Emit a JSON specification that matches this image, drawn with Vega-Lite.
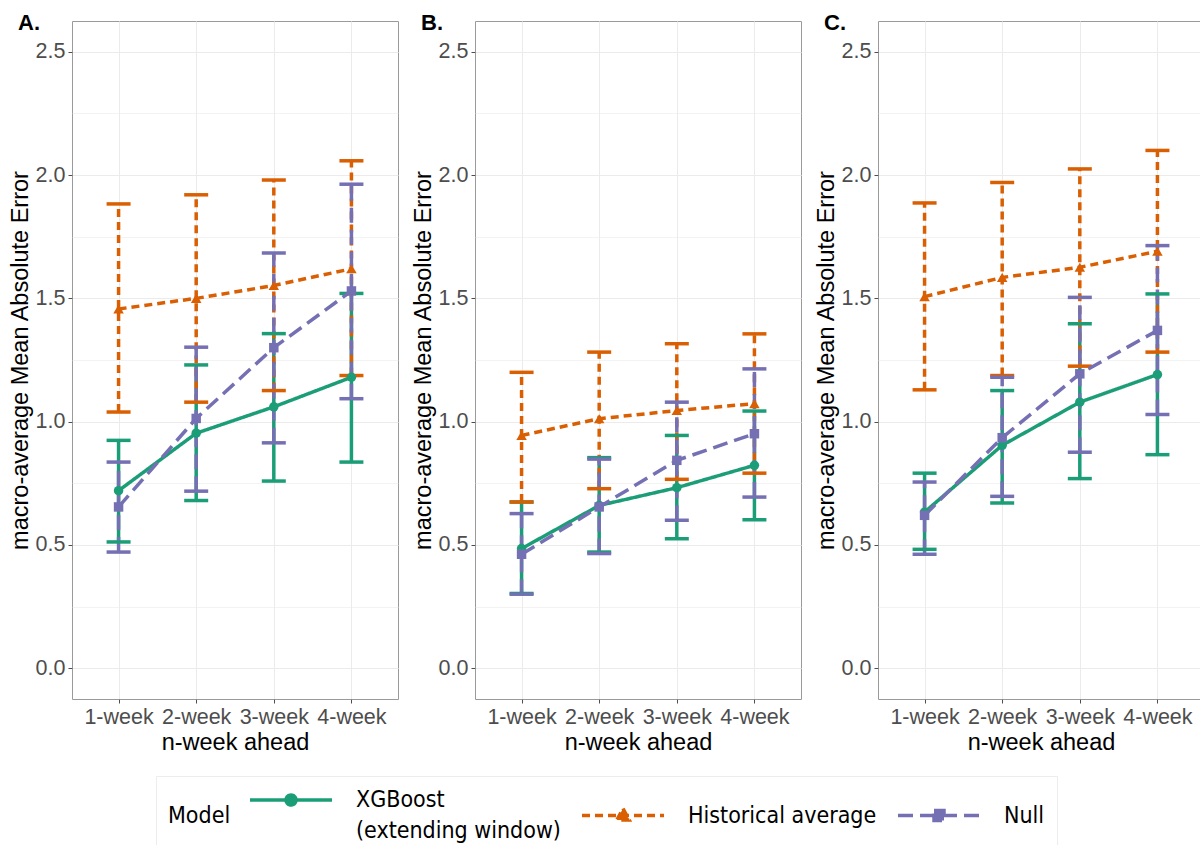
{
  "$schema": "https://vega.github.io/schema/vega-lite/v6.json",
  "padding": {"left": 7, "top": 11, "right": 0, "bottom": 0},
  "background": "white",
  "data": {"values": [
    {"panel": "A", "week": "1-week", "model": "XGBoost (extending window)", "mean": 0.72, "lo": 0.512, "hi": 0.924},
    {"panel": "A", "week": "2-week", "model": "XGBoost (extending window)", "mean": 0.953, "lo": 0.68, "hi": 1.23},
    {"panel": "A", "week": "3-week", "model": "XGBoost (extending window)", "mean": 1.06, "lo": 0.759, "hi": 1.357},
    {"panel": "A", "week": "4-week", "model": "XGBoost (extending window)", "mean": 1.18, "lo": 0.836, "hi": 1.52},
    {"panel": "A", "week": "1-week", "model": "Historical average", "mean": 1.457, "lo": 1.039, "hi": 1.883},
    {"panel": "A", "week": "2-week", "model": "Historical average", "mean": 1.5, "lo": 1.079, "hi": 1.92},
    {"panel": "A", "week": "3-week", "model": "Historical average", "mean": 1.552, "lo": 1.126, "hi": 1.98},
    {"panel": "A", "week": "4-week", "model": "Historical average", "mean": 1.62, "lo": 1.187, "hi": 2.058},
    {"panel": "A", "week": "1-week", "model": "Null", "mean": 0.654, "lo": 0.471, "hi": 0.836},
    {"panel": "A", "week": "2-week", "model": "Null", "mean": 1.013, "lo": 0.718, "hi": 1.302},
    {"panel": "A", "week": "3-week", "model": "Null", "mean": 1.3, "lo": 0.914, "hi": 1.684},
    {"panel": "A", "week": "4-week", "model": "Null", "mean": 1.53, "lo": 1.093, "hi": 1.963},
    {"panel": "B", "week": "1-week", "model": "XGBoost (extending window)", "mean": 0.485, "lo": 0.303, "hi": 0.674},
    {"panel": "B", "week": "2-week", "model": "XGBoost (extending window)", "mean": 0.66, "lo": 0.471, "hi": 0.854},
    {"panel": "B", "week": "3-week", "model": "XGBoost (extending window)", "mean": 0.732, "lo": 0.525, "hi": 0.944},
    {"panel": "B", "week": "4-week", "model": "XGBoost (extending window)", "mean": 0.823, "lo": 0.602, "hi": 1.043},
    {"panel": "B", "week": "1-week", "model": "Historical average", "mean": 0.944, "lo": 0.674, "hi": 1.2},
    {"panel": "B", "week": "2-week", "model": "Historical average", "mean": 1.012, "lo": 0.728, "hi": 1.282},
    {"panel": "B", "week": "3-week", "model": "Historical average", "mean": 1.045, "lo": 0.766, "hi": 1.316},
    {"panel": "B", "week": "4-week", "model": "Historical average", "mean": 1.073, "lo": 0.791, "hi": 1.356},
    {"panel": "B", "week": "1-week", "model": "Null", "mean": 0.462, "lo": 0.3, "hi": 0.627},
    {"panel": "B", "week": "2-week", "model": "Null", "mean": 0.654, "lo": 0.465, "hi": 0.848},
    {"panel": "B", "week": "3-week", "model": "Null", "mean": 0.843, "lo": 0.6, "hi": 1.079},
    {"panel": "B", "week": "4-week", "model": "Null", "mean": 0.951, "lo": 0.694, "hi": 1.214},
    {"panel": "C", "week": "1-week", "model": "XGBoost (extending window)", "mean": 0.633, "lo": 0.482, "hi": 0.791},
    {"panel": "C", "week": "2-week", "model": "XGBoost (extending window)", "mean": 0.904, "lo": 0.67, "hi": 1.126},
    {"panel": "C", "week": "3-week", "model": "XGBoost (extending window)", "mean": 1.079, "lo": 0.769, "hi": 1.397},
    {"panel": "C", "week": "4-week", "model": "XGBoost (extending window)", "mean": 1.191, "lo": 0.866, "hi": 1.518},
    {"panel": "C", "week": "1-week", "model": "Historical average", "mean": 1.507, "lo": 1.129, "hi": 1.887},
    {"panel": "C", "week": "2-week", "model": "Historical average", "mean": 1.585, "lo": 1.187, "hi": 1.97},
    {"panel": "C", "week": "3-week", "model": "Historical average", "mean": 1.626, "lo": 1.225, "hi": 2.025},
    {"panel": "C", "week": "4-week", "model": "Historical average", "mean": 1.691, "lo": 1.282, "hi": 2.1},
    {"panel": "C", "week": "1-week", "model": "Null", "mean": 0.62, "lo": 0.462, "hi": 0.755},
    {"panel": "C", "week": "2-week", "model": "Null", "mean": 0.935, "lo": 0.697, "hi": 1.18},
    {"panel": "C", "week": "3-week", "model": "Null", "mean": 1.194, "lo": 0.876, "hi": 1.504},
    {"panel": "C", "week": "4-week", "model": "Null", "mean": 1.37, "lo": 1.029, "hi": 1.714}
  ]},
  "spacing": 11,
  "resolve": {"scale": {"color": "shared", "strokeDash": "shared", "shape": "shared", "y": "independent", "x": "independent"}},
  "hconcat": [
    {
      "width": 326, "height": 678,
      "title": {"text": "A."},
      "transform": [{"filter": "datum.panel === 'A'"}],
      "encoding": {
        "x": {"field": "week", "type": "ordinal", "scale": {"type": "point", "padding": 0.6}, "axis": {"title": "n-week ahead", "labelAngle": 0, "grid": true}},
        "color": {"field": "model", "type": "nominal", "title": "Model",
          "scale": {"domain": ["XGBoost (extending window)", "Historical average", "Null"], "range": ["#1B9E77", "#D95F02", "#7570B3"]},
          "legend": {"orient": "none", "legendX": 84, "legendY": 755, "labelExpr": "datum.label === 'XGBoost (extending window)' ? ['XGBoost', '(extending window)'] : datum.label"}},
        "strokeDash": {"field": "model", "type": "nominal", "title": "Model", "scale": {"domain": ["XGBoost (extending window)", "Historical average", "Null"], "range": [[1, 0], [8, 5], [15, 7]]}}
      },
      "layer": [
        {"mark": {"type": "rule", "strokeWidth": 3.5},
         "encoding": {
           "y": {"field": "lo", "type": "quantitative", "title": "macro-average Mean Absolute Error", "scale": {"domain": [-0.125, 2.625], "nice": false, "zero": false},
             "axis": {"values": [0, 0.25, 0.5, 0.75, 1, 1.25, 1.5, 1.75, 2, 2.25, 2.5], "labelExpr": "datum.value % 0.5 === 0 ? format(datum.value, '.1f') : ''",
               "gridWidth": {"condition": {"test": "datum.value % 0.5 !== 0", "value": 0.6}, "value": 1.1},
               "tickOpacity": {"condition": {"test": "datum.value % 0.5 !== 0", "value": 0}, "value": 1}}},
           "y2": {"field": "hi"}
         }},
        {"transform": [{"fold": ["lo", "hi"], "as": ["bound", "val"]}],
         "mark": {"type": "tick", "orient": "horizontal", "size": 24, "thickness": 3.5, "opacity": 1},
         "encoding": {"y": {"field": "val", "type": "quantitative", "title": "macro-average Mean Absolute Error"}}},
        {"mark": {"type": "line", "strokeWidth": 3.5},
         "encoding": {"y": {"field": "mean", "type": "quantitative", "title": "macro-average Mean Absolute Error"}}},
        {"transform": [{"filter": "datum.model === 'XGBoost (extending window)'"}],
         "mark": {"type": "point", "filled": true, "size": 90, "opacity": 1, "shape": "circle"},
         "encoding": {"y": {"field": "mean", "type": "quantitative", "title": "macro-average Mean Absolute Error"}}},
        {"transform": [{"filter": "datum.model === 'Historical average'"}],
         "mark": {"type": "point", "filled": true, "size": 110, "opacity": 1, "shape": "triangle-up"},
         "encoding": {"y": {"field": "mean", "type": "quantitative", "title": "macro-average Mean Absolute Error"}}},
        {"transform": [{"filter": "datum.model === 'Null'"}],
         "mark": {"type": "point", "filled": true, "size": 90, "opacity": 1, "shape": "square"},
         "encoding": {"y": {"field": "mean", "type": "quantitative", "title": "macro-average Mean Absolute Error"}}},
        {"transform": [{"filter": "false"}],
         "mark": {"type": "point", "filled": true, "opacity": 1},
         "encoding": {
           "y": {"field": "mean", "type": "quantitative", "title": "macro-average Mean Absolute Error"},
           "shape": {"field": "model", "type": "nominal", "title": "Model", "scale": {"domain": ["XGBoost (extending window)", "Historical average", "Null"],
             "range": ["M-4.1,0H4.1M0.5,0A0.5,0.5,0,1,1,-0.5,0A0.5,0.5,0,1,1,0.5,0Z", "M-4.1,0H4.1M0,-0.7L0.62,0.45H-0.62Z", "M-4.1,0H4.1M-0.5,-0.5H0.5V0.5H-0.5Z"]}}
         }}
      ]
    },
    {
      "width": 326, "height": 678,
      "title": {"text": "B."},
      "transform": [{"filter": "datum.panel === 'B'"}],
      "encoding": {
        "x": {"field": "week", "type": "ordinal", "scale": {"type": "point", "padding": 0.6}, "axis": {"title": "n-week ahead", "labelAngle": 0, "grid": true}},
        "color": {"field": "model", "type": "nominal", "title": "Model",
          "scale": {"domain": ["XGBoost (extending window)", "Historical average", "Null"], "range": ["#1B9E77", "#D95F02", "#7570B3"]},
          "legend": {"orient": "none", "legendX": 84, "legendY": 755, "labelExpr": "datum.label === 'XGBoost (extending window)' ? ['XGBoost', '(extending window)'] : datum.label"}},
        "strokeDash": {"field": "model", "type": "nominal", "title": "Model", "scale": {"domain": ["XGBoost (extending window)", "Historical average", "Null"], "range": [[1, 0], [8, 5], [15, 7]]}}
      },
      "layer": [
        {"mark": {"type": "rule", "strokeWidth": 3.5},
         "encoding": {
           "y": {"field": "lo", "type": "quantitative", "title": "macro-average Mean Absolute Error", "scale": {"domain": [-0.125, 2.625], "nice": false, "zero": false},
             "axis": {"values": [0, 0.25, 0.5, 0.75, 1, 1.25, 1.5, 1.75, 2, 2.25, 2.5], "labelExpr": "datum.value % 0.5 === 0 ? format(datum.value, '.1f') : ''",
               "gridWidth": {"condition": {"test": "datum.value % 0.5 !== 0", "value": 0.6}, "value": 1.1},
               "tickOpacity": {"condition": {"test": "datum.value % 0.5 !== 0", "value": 0}, "value": 1}}},
           "y2": {"field": "hi"}
         }},
        {"transform": [{"fold": ["lo", "hi"], "as": ["bound", "val"]}],
         "mark": {"type": "tick", "orient": "horizontal", "size": 24, "thickness": 3.5, "opacity": 1},
         "encoding": {"y": {"field": "val", "type": "quantitative", "title": "macro-average Mean Absolute Error"}}},
        {"mark": {"type": "line", "strokeWidth": 3.5},
         "encoding": {"y": {"field": "mean", "type": "quantitative", "title": "macro-average Mean Absolute Error"}}},
        {"transform": [{"filter": "datum.model === 'XGBoost (extending window)'"}],
         "mark": {"type": "point", "filled": true, "size": 90, "opacity": 1, "shape": "circle"},
         "encoding": {"y": {"field": "mean", "type": "quantitative", "title": "macro-average Mean Absolute Error"}}},
        {"transform": [{"filter": "datum.model === 'Historical average'"}],
         "mark": {"type": "point", "filled": true, "size": 110, "opacity": 1, "shape": "triangle-up"},
         "encoding": {"y": {"field": "mean", "type": "quantitative", "title": "macro-average Mean Absolute Error"}}},
        {"transform": [{"filter": "datum.model === 'Null'"}],
         "mark": {"type": "point", "filled": true, "size": 90, "opacity": 1, "shape": "square"},
         "encoding": {"y": {"field": "mean", "type": "quantitative", "title": "macro-average Mean Absolute Error"}}},
        {"transform": [{"filter": "false"}],
         "mark": {"type": "point", "filled": true, "opacity": 1},
         "encoding": {
           "y": {"field": "mean", "type": "quantitative", "title": "macro-average Mean Absolute Error"},
           "shape": {"field": "model", "type": "nominal", "title": "Model", "scale": {"domain": ["XGBoost (extending window)", "Historical average", "Null"],
             "range": ["M-4.1,0H4.1M0.5,0A0.5,0.5,0,1,1,-0.5,0A0.5,0.5,0,1,1,0.5,0Z", "M-4.1,0H4.1M0,-0.7L0.62,0.45H-0.62Z", "M-4.1,0H4.1M-0.5,-0.5H0.5V0.5H-0.5Z"]}}
         }}
      ]
    },
    {
      "width": 326, "height": 678,
      "title": {"text": "C."},
      "transform": [{"filter": "datum.panel === 'C'"}],
      "encoding": {
        "x": {"field": "week", "type": "ordinal", "scale": {"type": "point", "padding": 0.6}, "axis": {"title": "n-week ahead", "labelAngle": 0, "grid": true}},
        "color": {"field": "model", "type": "nominal", "title": "Model",
          "scale": {"domain": ["XGBoost (extending window)", "Historical average", "Null"], "range": ["#1B9E77", "#D95F02", "#7570B3"]},
          "legend": {"orient": "none", "legendX": 84, "legendY": 755, "labelExpr": "datum.label === 'XGBoost (extending window)' ? ['XGBoost', '(extending window)'] : datum.label"}},
        "strokeDash": {"field": "model", "type": "nominal", "title": "Model", "scale": {"domain": ["XGBoost (extending window)", "Historical average", "Null"], "range": [[1, 0], [8, 5], [15, 7]]}}
      },
      "layer": [
        {"mark": {"type": "rule", "strokeWidth": 3.5},
         "encoding": {
           "y": {"field": "lo", "type": "quantitative", "title": "macro-average Mean Absolute Error", "scale": {"domain": [-0.125, 2.625], "nice": false, "zero": false},
             "axis": {"values": [0, 0.25, 0.5, 0.75, 1, 1.25, 1.5, 1.75, 2, 2.25, 2.5], "labelExpr": "datum.value % 0.5 === 0 ? format(datum.value, '.1f') : ''",
               "gridWidth": {"condition": {"test": "datum.value % 0.5 !== 0", "value": 0.6}, "value": 1.1},
               "tickOpacity": {"condition": {"test": "datum.value % 0.5 !== 0", "value": 0}, "value": 1}}},
           "y2": {"field": "hi"}
         }},
        {"transform": [{"fold": ["lo", "hi"], "as": ["bound", "val"]}],
         "mark": {"type": "tick", "orient": "horizontal", "size": 24, "thickness": 3.5, "opacity": 1},
         "encoding": {"y": {"field": "val", "type": "quantitative", "title": "macro-average Mean Absolute Error"}}},
        {"mark": {"type": "line", "strokeWidth": 3.5},
         "encoding": {"y": {"field": "mean", "type": "quantitative", "title": "macro-average Mean Absolute Error"}}},
        {"transform": [{"filter": "datum.model === 'XGBoost (extending window)'"}],
         "mark": {"type": "point", "filled": true, "size": 90, "opacity": 1, "shape": "circle"},
         "encoding": {"y": {"field": "mean", "type": "quantitative", "title": "macro-average Mean Absolute Error"}}},
        {"transform": [{"filter": "datum.model === 'Historical average'"}],
         "mark": {"type": "point", "filled": true, "size": 110, "opacity": 1, "shape": "triangle-up"},
         "encoding": {"y": {"field": "mean", "type": "quantitative", "title": "macro-average Mean Absolute Error"}}},
        {"transform": [{"filter": "datum.model === 'Null'"}],
         "mark": {"type": "point", "filled": true, "size": 90, "opacity": 1, "shape": "square"},
         "encoding": {"y": {"field": "mean", "type": "quantitative", "title": "macro-average Mean Absolute Error"}}},
        {"transform": [{"filter": "false"}],
         "mark": {"type": "point", "filled": true, "opacity": 1},
         "encoding": {
           "y": {"field": "mean", "type": "quantitative", "title": "macro-average Mean Absolute Error"},
           "shape": {"field": "model", "type": "nominal", "title": "Model", "scale": {"domain": ["XGBoost (extending window)", "Historical average", "Null"],
             "range": ["M-4.1,0H4.1M0.5,0A0.5,0.5,0,1,1,-0.5,0A0.5,0.5,0,1,1,0.5,0Z", "M-4.1,0H4.1M0,-0.7L0.62,0.45H-0.62Z", "M-4.1,0H4.1M-0.5,-0.5H0.5V0.5H-0.5Z"]}}
         }}
      ]
    }
  ],
  "config": {
    "font": "Liberation Sans",
    "view": {"stroke": "#9a9a9a", "strokeWidth": 1},
    "style": {"guide-label": {"lineHeight": 31}},
    "axis": {"domain": false, "gridColor": "#ebebeb", "tickColor": "#4d4d4d", "tickSize": 4, "tickWidth": 1,
      "labelColor": "#4d4d4d", "labelFontSize": 21.5, "labelPadding": 3,
      "titleFontSize": 23.5, "titleFontWeight": "normal", "titleColor": "black", "titlePadding": 3},
    "legend": {"direction": "horizontal", "titleOrient": "left", "titleAnchor": "middle", "titleBaseline": "middle",
      "titleFontSize": 23, "titleFont": "DejaVu Sans Condensed", "titleFontWeight": "normal", "titleColor": "black", "titlePadding": 48,
      "labelFontSize": 23, "labelFont": "DejaVu Sans Condensed", "labelColor": "black", "labelLimit": 400,
      "symbolSize": 400, "symbolStrokeWidth": 3.5, "symbolOpacity": 1, "labelOffset": 53, "columnPadding": 14,
      "padding": 12, "strokeColor": "#ededed"},
    "title": {"fontSize": 22, "fontWeight": "bold", "color": "black", "anchor": "start", "offset": -14, "baseline": "alphabetic", "dx": 10}
  }
}
